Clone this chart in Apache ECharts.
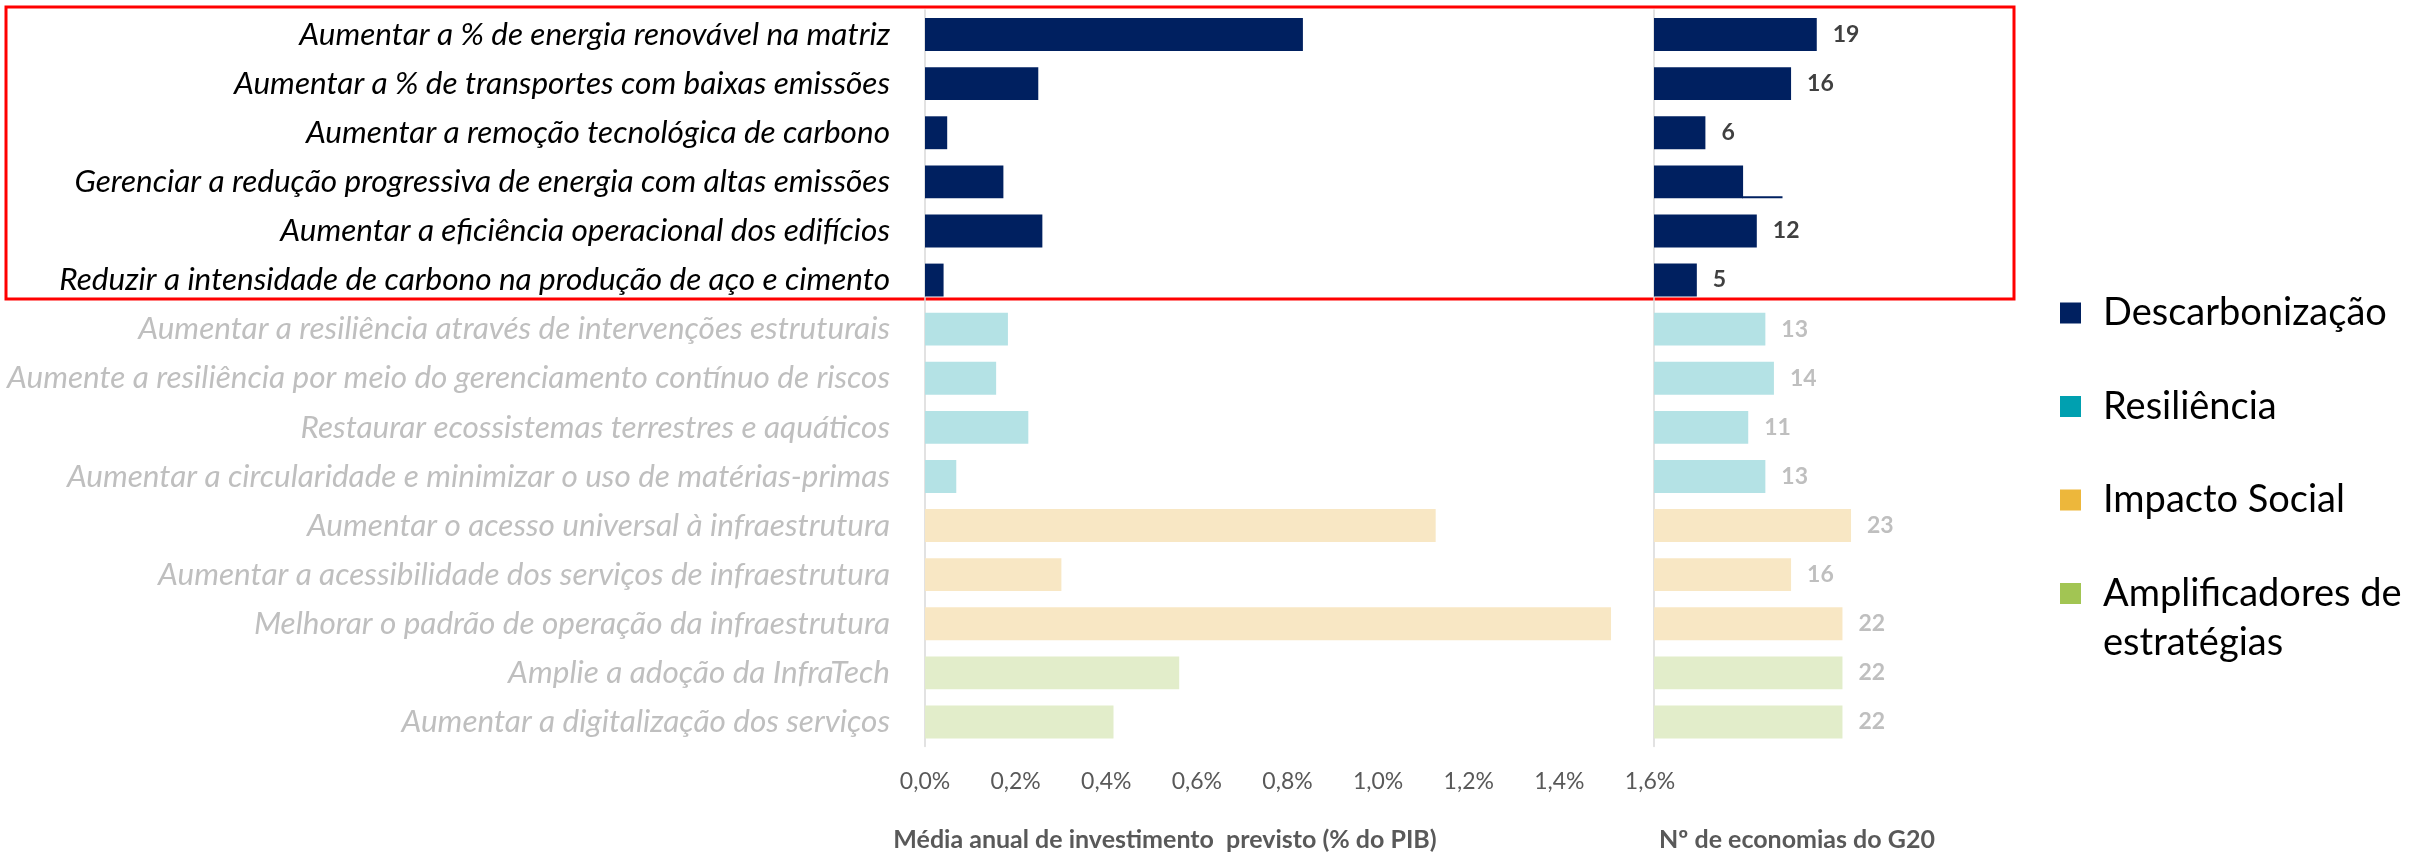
<!DOCTYPE html>
<html lang="pt">

<head>
  <meta charset="UTF-8">
  <title>Investimento previsto por estratégia</title>
  <script src="https://cdn.jsdelivr.net/npm/echarts@6.0.0/dist/echarts.min.js"></script>
  <style>
    html, body { margin: 0; padding: 0; background: #fff; }
    #main { width: 2420px; height: 853px; }
  </style>
</head>

<body>
  <div id="main"></div>
  <script>
    // categorias (de cima para baixo)
    const categories = [
      'Aumentar a % de energia renovável na matriz',
      'Aumentar a % de transportes com baixas emissões',
      'Aumentar a remoção tecnológica de carbono',
      'Gerenciar a redução progressiva de energia com altas emissões',
      'Aumentar a eficiência operacional dos edifícios',
      'Reduzir a intensidade de carbono na produção de aço e cimento',
      'Aumentar a resiliência através de intervenções estruturais',
      'Aumente a resiliência por meio do gerenciamento contínuo de riscos',
      'Restaurar ecossistemas terrestres e aquáticos',
      'Aumentar a circularidade e minimizar o uso de matérias-primas',
      'Aumentar o acesso universal à infraestrutura',
      'Aumentar a acessibilidade dos serviços de infraestrutura',
      'Melhorar o padrão de operação da infraestrutura',
      'Amplie a adoção da InfraTech',
      'Aumentar a digitalização dos serviços'
    ]
    const groups = ['Descarbonização', 'Resiliência', 'Impacto Social', 'Amplificadores de estratégias']
    const groupOfCategory = [0, 0, 0, 0, 0, 0, 1, 1, 1, 1, 2, 2, 2, 3, 3]

    // média anual de investimento previsto (% do PIB)
    const investment = [0.834, 0.250, 0.049, 0.173, 0.259, 0.041, 0.183, 0.157, 0.228, 0.069, 1.127, 0.301, 1.514, 0.561, 0.416]
    // nº de economias do G20
    const economies = [19, 16, 6, 10.4, 12, 5, 13, 14, 11, 13, 23, 16, 22, 22, 22]
    const hiddenLabels = [3]
    // a barra da linha 4 tem só a borda de baixo até 15 (sem rótulo)
    const outlineRow = 3
    const outlineEnd = 15

    const pctTicks = [0, 0.2, 0.4, 0.6, 0.8, 1.0, 1.2, 1.4, 1.6]

    const barColors = ['#002060', '#B4E2E5', '#F8E7C4', '#E2EDCA']
    const legendColors = ['#002060', '#00A0B0', '#EDB73B', '#A2C553']

    const font = 'Lato'

    let myChart = echarts.init(document.querySelector('#main'))

    let yData = categories.map((c, i) => ({
      value: c,
      textStyle: { color: groupOfCategory[i] === 0 ? '#000000' : '#BFBFBF' }
    }))

    let series = []
    groups.forEach((g, gi) => {
      series.push({
        name: g,
        type: 'bar',
        xAxisIndex: 0,
        yAxisIndex: 0,
        stack: 'left',
        barCategoryGap: '33%',
        itemStyle: { color: barColors[gi] },
        data: investment.map((v, i) => groupOfCategory[i] === gi ? v : null)
      })
      series.push({
        name: g,
        type: 'bar',
        xAxisIndex: 1,
        yAxisIndex: 1,
        stack: 'right',
        barCategoryGap: '33%',
        itemStyle: { color: barColors[gi] },
        label: {
          show: true,
          position: 'right',
          distance: 16,
          fontFamily: font,
          fontWeight: 'bold',
          fontSize: 23,
          color: gi === 0 ? '#404040' : '#BFBFBF'
        },
        data: economies.map((v, i) => {
          if (groupOfCategory[i] !== gi) return null
          if (hiddenLabels.includes(i)) return { value: v, label: { show: false } }
          return v
        })
      })
    })

    // linha fina na base da barra 4
    series.push({
      name: 'borda',
      type: 'custom',
      xAxisIndex: 1,
      yAxisIndex: 1,
      silent: true,
      data: [[economies[outlineRow], outlineEnd, outlineRow]],
      renderItem: function (params, api) {
        let a = api.coord([api.value(0), api.value(2)])
        let b = api.coord([api.value(1), api.value(2)])
        let h = api.size([0, 1])[1] * 0.67
        let y = a[1] + h / 2 - 1
        return {
          type: 'line',
          shape: { x1: a[0] - 1, y1: y, x2: b[0], y2: y },
          style: { stroke: '#002060', lineWidth: 2 }
        }
      }
    })

    let option = {
      animation: false,
      textStyle: { fontFamily: font },
      grid: [
        { left: 925, top: 10, width: 725, height: 736.5 },
        { left: 1654, top: 10, width: 257, height: 736.5 }
      ],
      xAxis: [
        {
          type: 'value', gridIndex: 0, min: pctTicks[0], max: pctTicks[pctTicks.length - 1], interval: 0.2,
          axisLine: { show: false }, axisTick: { show: false }, splitLine: { show: false },
          axisLabel: {
            margin: 24, fontSize: 23, color: '#595959', fontFamily: font,
            formatter: v => v.toFixed(1).replace('.', ',') + '%'
          }
        },
        {
          type: 'value', gridIndex: 1, min: 0, max: 30,
          axisLine: { show: false }, axisTick: { show: false }, splitLine: { show: false },
          axisLabel: { show: false }
        }
      ],
      yAxis: [
        {
          type: 'category', gridIndex: 0, inverse: true, data: yData,
          axisLine: { show: true, lineStyle: { color: '#D9D9D9', width: 1.5 } },
          axisTick: { show: false },
          axisLabel: { margin: 35, fontSize: 31.5, fontStyle: 'italic', fontFamily: font }
        },
        {
          type: 'category', gridIndex: 1, inverse: true, data: categories,
          axisLine: { show: true, lineStyle: { color: '#D9D9D9', width: 1.5 } },
          axisTick: { show: false },
          axisLabel: { show: false }
        }
      ],
      legend: {
        orient: 'vertical',
        left: 2060,
        top: 313 - 25,
        itemGap: 43.5,
        padding: 0,
        icon: 'rect',
        itemWidth: 21,
        itemHeight: 21,
        selectedMode: false,
        // a segunda linha do último item vai como texto à parte, p/ o ícone ficar na primeira linha
        formatter: name => name === groups[3] ? 'Amplificadores de' : name,
        textStyle: { fontFamily: font, fontSize: 38, color: '#000', lineHeight: 50, padding: [0, 0, 0, 17] },
        data: groups.map((g, i) => ({ name: g, itemStyle: { color: legendColors[i] } }))
      },
      graphic: [
        {
          type: 'rect', silent: true,
          shape: { x: 6, y: 7, width: 2008, height: 292 },
          style: { fill: 'none', stroke: '#FF0000', lineWidth: 3 }
        },
        {
          type: 'text', x: 2103, y: 643,
          style: {
            text: 'estratégias', fontFamily: font, fontSize: 38, fill: '#000',
            textAlign: 'left', textVerticalAlign: 'middle'
          }
        },
        {
          type: 'text', x: 1165, y: 840,
          style: {
            text: 'Média anual de investimento  previsto (% do PIB)', fontFamily: font,
            fontSize: 25, fontWeight: 'bold', fill: '#595959', textAlign: 'center', textVerticalAlign: 'middle'
          }
        },
        {
          type: 'text', x: 1797, y: 840,
          style: {
            text: 'Nº de economias do G20', fontFamily: font,
            fontSize: 25, fontWeight: 'bold', fill: '#595959', textAlign: 'center', textVerticalAlign: 'middle'
          }
        }
      ],
      series: series
    }

    myChart.setOption(option)
  </script>
</body>

</html>
